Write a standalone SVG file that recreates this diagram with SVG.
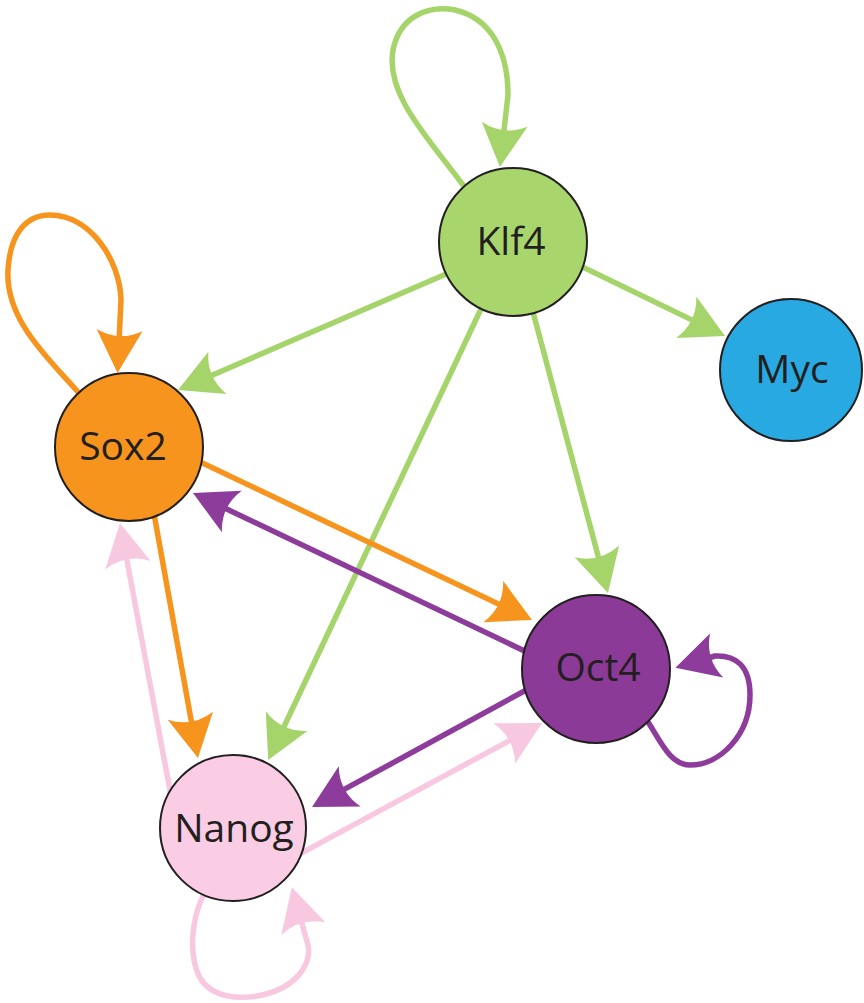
<svg xmlns="http://www.w3.org/2000/svg" width="864" height="1003" viewBox="0 0 864 1003">
<style>
.e{fill:none;stroke-width:5.5;stroke-linecap:butt;stroke-linejoin:round}
.g{stroke:#A5D46A;marker-end:url(#mg)}
.o{stroke:#F7941D;marker-end:url(#mo)}
.p{stroke:#8E3C9B;marker-end:url(#mp)}
.k{stroke:#F8C8E0;marker-end:url(#mk)}
.n{stroke:#231F20;stroke-width:2}
.t{font-family:"Open Sans","Liberation Sans",sans-serif;font-size:39px;fill:#231F20;text-anchor:middle}
</style>
<defs>
<marker id="mg" markerUnits="userSpaceOnUse" orient="auto" refX="-10" refY="0" markerWidth="60" markerHeight="60" style="overflow:visible"><path d="M0,0 L-43,-23 Q-31,0 -43,23 Z" fill="#A5D46A"/></marker>
<marker id="mo" markerUnits="userSpaceOnUse" orient="auto" refX="-10" refY="0" markerWidth="60" markerHeight="60" style="overflow:visible"><path d="M0,0 L-43,-23 Q-31,0 -43,23 Z" fill="#F7941D"/></marker>
<marker id="mp" markerUnits="userSpaceOnUse" orient="auto" refX="-10" refY="0" markerWidth="60" markerHeight="60" style="overflow:visible"><path d="M0,0 L-43,-23 Q-31,0 -43,23 Z" fill="#8E3C9B"/></marker>
<marker id="mk" markerUnits="userSpaceOnUse" orient="auto" refX="-10" refY="0" markerWidth="60" markerHeight="60" style="overflow:visible"><path d="M0,0 L-43,-23 Q-31,0 -43,23 Z" fill="#F8C8E0"/></marker>
</defs>
<g id="connectors">
<path class="e g" d="M478,205 L463,185 C 430,140 385,95 393,50 C 400,15 430,5 455,10 C 490,18 508,50 508,95 L 501,157"/>
<path class="e g" d="M460,268 L187.2,386"/>
<path class="e g" d="M560,256 L716,331.6"/>
<path class="e g" d="M497,275 L272.5,751"/>
<path class="e g" d="M525,282 L605.4,583.3"/>
<path class="e o" d="M92,407 L78,392 C 50,360 5,320 8,270 C 10,235 25,215 50,215 C 90,215 120,260 121,300 L 118,363"/>
<path class="e o" d="M171,448 L523,615.7"/>
<path class="e o" d="M148,480.5 L196.2,748.2"/>
<path class="e p" d="M554,665 L202,497.3"/>
<path class="e p" d="M540,682.5 L320.8,802.2"/>
<path class="e p" d="M630,700 L648,722 C 660,740 670,765 690,765 C 720,765 750,735 750,695 C 750,665 735,655 715,656 L 685,665"/>
<path class="e k" d="M173.3,808 L121.8,532.8"/>
<path class="e k" d="M287,860.8 L533.2,727.8"/>
<path class="e k" d="M210,880 L202,898 C 192,920 188,955 200,978 C 212,998 240,1000 262,995 C 295,988 312,965 308,945 L 294.5,897"/>
</g>
<g id="klf4"><circle class="n" cx="513" cy="242" r="74" fill="#A8D66D"/><text class="t" x="511" y="255">Klf4</text></g>
<g id="myc"><circle class="n" cx="791" cy="370" r="71" fill="#28A9E1"/><text class="t" x="792" y="383">Myc</text></g>
<g id="sox2"><circle class="n" cx="129" cy="447" r="74" fill="#F7941D"/><text class="t" x="123" y="460">Sox2</text></g>
<g id="oct4"><circle class="n" cx="596" cy="669" r="74" fill="#8B3A97"/><text class="t" x="598" y="681">Oct4</text></g>
<g id="nanog"><circle class="n" cx="233" cy="828" r="73" fill="#FACDE4"/><text class="t" x="234" y="842">Nanog</text></g>
</svg>
